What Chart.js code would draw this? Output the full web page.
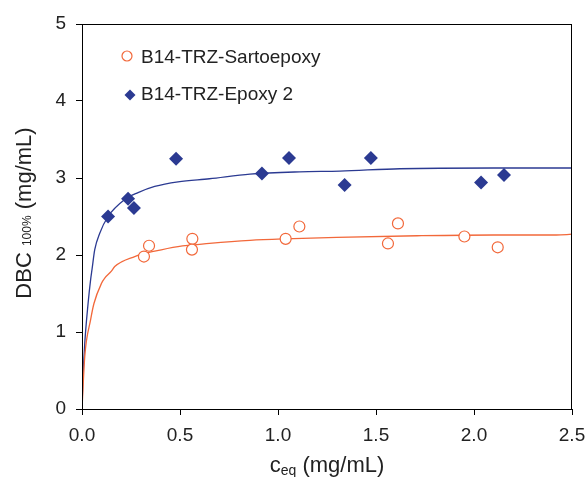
<!DOCTYPE html>
<html>
<head>
<meta charset="utf-8">
<script src="https://cdn.jsdelivr.net/npm/chart.js@4"></script>
<style>
  html, body { margin: 0; padding: 0; background: #fff; }
  #wrap { width: 587px; height: 477px; }
</style>
</head>
<body>
<div id="wrap"><canvas id="dbcChart" width="587" height="477"></canvas></div>
<script>
// measured points (c_eq, DBC)
const sartoX = [0.316, 0.342, 0.563, 0.561, 1.039, 1.109, 1.561, 1.612, 1.951, 2.121];
const sartoY = [1.98, 2.12, 2.21, 2.07, 2.21, 2.37, 2.15, 2.41, 2.24, 2.10];
const epoxyX = [0.133, 0.235, 0.265, 0.480, 0.918, 1.056, 1.340, 1.474, 2.036, 2.153];
const epoxyY = [2.50, 2.73, 2.61, 3.25, 3.06, 3.26, 2.91, 3.26, 2.94, 3.04];

// fitted curves
const sartoFitX = [0, 0.014, 0.044, 0.061, 0.099, 0.116, 0.15, 0.167, 0.269, 0.371, 0.49, 0.65, 0.857, 1.036, 1.30, 1.71, 2.10, 2.42, 2.5];
const sartoFitY = [0, 0.68, 1.16, 1.37, 1.63, 1.70, 1.79, 1.85, 1.98, 2.05, 2.11, 2.15, 2.19, 2.21, 2.23, 2.25, 2.26, 2.26, 2.27];
const epoxyFitX = [0, 0.004, 0.014, 0.031, 0.044, 0.051, 0.065, 0.09, 0.133, 0.218, 0.286, 0.371, 0.49, 0.65, 0.857, 1.11, 1.316, 1.622, 2.10, 2.5];
const epoxyFitY = [0, 0.35, 0.85, 1.37, 1.68, 1.81, 2.07, 2.28, 2.50, 2.72, 2.81, 2.89, 2.95, 2.99, 3.05, 3.08, 3.09, 3.12, 3.13, 3.13];

const xTicks = [0, 0.5, 1.0, 1.5, 2.0, 2.5];
const yTicks = [0, 1, 2, 3, 4, 5];
const seriesNames = ['B14-TRZ-Sartoepoxy', 'B14-TRZ-Epoxy 2'];

const RED = '#F2683A';
const BLUE = '#2B3A92';
const FONT = '"Liberation Sans", Arial, sans-serif';

function pairs(xs, ys) {
    return xs.map((x, i) => ({ x: x, y: ys[i] }));
}

// draws text pieces [text, size, dy] centred on 0 along the baseline
function drawPieces(ctx, pieces, cx, cy) {
    let total = 0;
    pieces.forEach(p => { ctx.font = p[1] + 'px ' + FONT; total += ctx.measureText(p[0]).width; });
    let x = cx - total / 2;
    pieces.forEach(p => {
        ctx.font = p[1] + 'px ' + FONT;
        ctx.fillText(p[0], x, cy + p[2]);
        x += ctx.measureText(p[0]).width;
    });
}

// frame, legend and axis titles with subscripts
const decorations = {
    id: 'decorations',
    afterDraw(chart) {
        const ctx = chart.ctx;
        const a = chart.chartArea;
        ctx.save();
        ctx.strokeStyle = '#000';
        ctx.lineWidth = 1;
        ctx.strokeRect(a.left + 0.5, a.top + 0.5, a.right - a.left - 1, a.bottom - a.top);

        // legend
        ctx.font = '19px ' + FONT;
        ctx.textBaseline = 'alphabetic';
        ctx.textAlign = 'left';
        ctx.beginPath();
        ctx.arc(127, 56, 5, 0, Math.PI * 2);
        ctx.strokeStyle = RED;
        ctx.lineWidth = 1.2;
        ctx.stroke();
        ctx.fillStyle = '#222';
        ctx.fillText(seriesNames[0], 141, 63);
        ctx.beginPath();
        ctx.moveTo(130, 89.5);
        ctx.lineTo(135.5, 95);
        ctx.lineTo(130, 100.5);
        ctx.lineTo(124.5, 95);
        ctx.closePath();
        ctx.fillStyle = BLUE;
        ctx.fill();
        ctx.fillStyle = '#222';
        ctx.fillText(seriesNames[1], 141, 100);

        // x title: c_eq (mg/mL)
        drawPieces(ctx, [['c', 22, 0], ['eq', 14, 3], [' (mg/mL)', 22, 0]], (a.left + a.right) / 2, 472);

        // y title: DBC 100% (mg/mL)
        ctx.translate(31, 213);
        ctx.rotate(-Math.PI / 2);
        drawPieces(ctx, [['DBC ', 22, 0], ['100%', 12, 0], [' (mg/mL)', 22, 0]], 0, 0);
        ctx.restore();
    }
};

const ctx = document.getElementById('dbcChart').getContext('2d');
new Chart(ctx, {
    type: 'scatter',
    data: {
        datasets: [{
            label: seriesNames[0],
            data: pairs(sartoX, sartoY),
            pointStyle: 'circle',
            pointRadius: 5.5,
            pointBorderWidth: 1.2,
            borderColor: RED,
            backgroundColor: '#fff',
            order: 1
        }, {
            label: seriesNames[1],
            data: pairs(epoxyX, epoxyY),
            pointStyle: 'rectRot',
            pointRadius: 7,
            pointBorderWidth: 0,
            borderColor: BLUE,
            backgroundColor: BLUE,
            order: 1
        }, {
            label: 'fit1',
            type: 'line',
            data: pairs(sartoFitX, sartoFitY),
            borderColor: RED,
            borderWidth: 1.3,
            pointRadius: 0,
            cubicInterpolationMode: 'monotone',
            fill: false,
            order: 2
        }, {
            label: 'fit2',
            type: 'line',
            data: pairs(epoxyFitX, epoxyFitY),
            borderColor: BLUE,
            borderWidth: 1.3,
            pointRadius: 0,
            cubicInterpolationMode: 'monotone',
            fill: false,
            order: 2
        }]
    },
    options: {
        responsive: false,
        animation: false,
        layout: { padding: { left: 0, top: 24, right: 15, bottom: 0 } },
        plugins: { legend: { display: false }, tooltip: { enabled: false } },
        scales: {
            x: {
                type: 'linear',
                min: 0, max: 2.5,
                afterBuildTicks: s => { s.ticks = xTicks.map(v => ({ value: v })); },
                afterFit: s => { s.height = 68; s.paddingLeft = 0; s.paddingRight = 0; },
                grid: { drawOnChartArea: false, tickLength: 6, color: '#000' },
                border: { color: '#000' },
                ticks: {
                    color: '#222', padding: 9,
                    font: { family: FONT, size: 19 },
                    callback: v => v.toFixed(1)
                }
            },
            y: {
                min: 0, max: 5,
                afterBuildTicks: s => { s.ticks = yTicks.map(v => ({ value: v })); },
                afterFit: s => { s.width = 82; s.paddingTop = 0; s.paddingBottom = 0; },
                grid: { drawOnChartArea: false, tickLength: 6, color: '#000' },
                border: { color: '#000' },
                ticks: {
                    color: '#222', padding: 10,
                    font: { family: FONT, size: 19 },
                    callback: v => String(v)
                }
            }
        }
    },
    plugins: [decorations]
});
</script>
</body>
</html>
